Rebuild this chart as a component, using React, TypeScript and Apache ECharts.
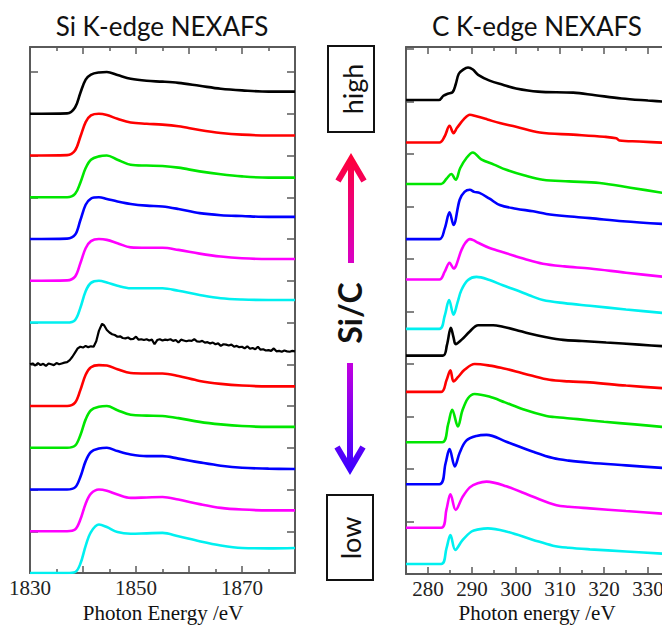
import React, { useEffect, useRef } from "react";
import * as echarts from "echarts";

// ---------- Si K-edge (left panel) ----------
const SI_ENERGY = [1830, 1837, 1838.5, 1839.5, 1840.5, 1841.5, 1843, 1844.5, 1846.5, 1849, 1852, 1855, 1858, 1862, 1866, 1870, 1875, 1880];
const SI_1_BLACK = [0, 0.01, 0.15, 0.5, 0.82, 0.94, 0.99, 1.0, 0.93, 0.84, 0.79, 0.77, 0.74, 0.67, 0.6, 0.56, 0.53, 0.53];
const SI_2_RED = [0, 0.01, 0.12, 0.45, 0.8, 0.96, 1.0, 0.97, 0.88, 0.79, 0.76, 0.74, 0.7, 0.61, 0.54, 0.5, 0.48, 0.48];
const SI_3_GREEN = [0, 0.0, 0.08, 0.35, 0.7, 0.9, 0.98, 1.0, 0.9, 0.78, 0.76, 0.75, 0.71, 0.62, 0.55, 0.5, 0.47, 0.47];
const SI_4_BLUE = [0, 0.01, 0.1, 0.45, 0.82, 0.97, 1.0, 0.96, 0.9, 0.84, 0.8, 0.78, 0.72, 0.62, 0.57, 0.55, 0.53, 0.53];
const SI_5_MAGENTA = [0, 0.01, 0.1, 0.42, 0.78, 0.95, 1.0, 0.98, 0.9, 0.8, 0.79, 0.79, 0.74, 0.65, 0.58, 0.54, 0.52, 0.52];
const SI_6_CYAN = [0, 0, 0.06, 0.35, 0.75, 0.95, 1.0, 0.96, 0.88, 0.82, 0.82, 0.82, 0.76, 0.66, 0.58, 0.55, 0.54, 0.54];
const SI_8_RED = [0, 0, 0.08, 0.38, 0.75, 0.93, 0.98, 0.97, 0.88, 0.79, 0.78, 0.78, 0.72, 0.6, 0.53, 0.49, 0.47, 0.47];
const SI_9_GREEN = [0, 0, 0.05, 0.3, 0.68, 0.9, 0.98, 1.0, 0.9, 0.79, 0.77, 0.76, 0.71, 0.62, 0.56, 0.52, 0.5, 0.5];
const SI_10_BLUE = [0, 0, 0.05, 0.3, 0.68, 0.9, 0.98, 1.0, 0.92, 0.84, 0.8, 0.8, 0.74, 0.65, 0.57, 0.52, 0.5, 0.49];
const SI_11_MAGENTA = [0, 0, 0.04, 0.28, 0.66, 0.9, 1.0, 0.97, 0.88, 0.8, 0.81, 0.82, 0.76, 0.65, 0.56, 0.52, 0.5, 0.5];
const SI_12_CYAN = [0, 0, 0.02, 0.22, 0.65, 0.98, 1.16, 1.1, 0.98, 0.94, 0.95, 0.96, 0.88, 0.76, 0.66, 0.6, 0.59, 0.6];
// noisy black spectrum: [energy, intensity]
const SI_7_BLACK_NOISY: [number, number][] = [
  [1830, 0.0], [1830.5, 0.02], [1831, -0.03], [1831.5, 0.03], [1832, -0.02], [1832.5, 0.01], [1833, -0.04], [1833.5, 0.02],
  [1834, 0.0], [1834.5, -0.02], [1835, 0.03], [1835.5, 0.0], [1836, 0.02], [1836.5, 0.04], [1837, 0.05], [1837.5, 0.1],
  [1838, 0.18], [1838.5, 0.28], [1839, 0.38], [1839.5, 0.42], [1840, 0.4], [1840.5, 0.44], [1841, 0.41], [1841.5, 0.43],
  [1842, 0.42], [1842.5, 0.55], [1843, 0.8], [1843.6, 0.97], [1844, 0.93], [1844.5, 0.82], [1845, 0.76], [1845.5, 0.72],
  [1846, 0.7], [1846.5, 0.66], [1847, 0.67], [1847.5, 0.63], [1848, 0.62], [1848.5, 0.64], [1849, 0.6], [1849.5, 0.61],
  [1850, 0.66], [1850.5, 0.59], [1851, 0.6], [1851.5, 0.58], [1852, 0.6], [1852.5, 0.57], [1853, 0.59], [1853.5, 0.48],
  [1854, 0.58], [1854.5, 0.6], [1855, 0.57], [1855.5, 0.59], [1856, 0.58], [1856.5, 0.6], [1857, 0.56], [1857.5, 0.58],
  [1858, 0.52], [1858.5, 0.59], [1859, 0.57], [1859.5, 0.55], [1860, 0.57], [1860.5, 0.56], [1861, 0.6], [1861.5, 0.55],
  [1862, 0.54], [1862.5, 0.56], [1863, 0.52], [1863.5, 0.53], [1864, 0.5], [1864.5, 0.52], [1865, 0.48], [1865.5, 0.5],
  [1866, 0.44], [1866.5, 0.48], [1867, 0.47], [1867.5, 0.45], [1868, 0.47], [1868.5, 0.42], [1869, 0.44], [1869.5, 0.41],
  [1870, 0.42], [1870.5, 0.38], [1871, 0.43], [1871.5, 0.37], [1872, 0.39], [1872.5, 0.36], [1873, 0.42], [1873.5, 0.35],
  [1874, 0.36], [1874.5, 0.33], [1875, 0.34], [1875.5, 0.32], [1876, 0.38], [1876.5, 0.31], [1877, 0.32], [1877.5, 0.3],
  [1878, 0.33], [1878.5, 0.31], [1879, 0.3], [1879.5, 0.32], [1880, 0.31],
];
const SI_OFFSETS = [11, 10, 9, 8, 7, 6, 5, 4, 3, 2, 1, 0];

// ---------- C K-edge (right panel) ----------
const C_1_BLACK: [number, number][] = [[275, 0], [282.5, 0], [283.5, 0.08], [284.5, 0.12], [285.6, 0.15], [286.3, 0.3], [287, 0.5], [288, 0.58], [289.1, 0.62], [290.2, 0.58], [291.4, 0.48], [294, 0.37], [297, 0.29], [300, 0.22], [305, 0.16], [313, 0.14], [318, 0.09], [324, 0.03], [330, -0.01], [335, -0.04]];
const C_2_RED: [number, number][] = [[275, 0], [282.6, 0], [283.8, 0.12], [284.9, 0.32], [285.8, 0.18], [286.6, 0.28], [288.3, 0.46], [289.5, 0.53], [291, 0.5], [293.5, 0.44], [296.3, 0.37], [300, 0.3], [305.4, 0.19], [313, 0.15], [320, 0.11], [322.8, 0.08], [323.5, 0.04], [328, 0.02], [335, -0.01]];
const C_3_GREEN: [number, number][] = [[275, 0], [283, 0], [284.2, 0.1], [285.3, 0.19], [286.3, 0.08], [287.3, 0.3], [288.7, 0.49], [290.2, 0.6], [292.1, 0.47], [295, 0.37], [297.8, 0.27], [302, 0.16], [306.1, 0.08], [312, 0.05], [319, 0.02], [326, -0.07], [335, -0.19]];
const C_4_BLUE: [number, number][] = [[275, 0], [282.6, 0], [283.8, 0.2], [284.9, 0.51], [285.8, 0.27], [287.2, 0.75], [288.3, 0.9], [289.5, 0.94], [290.5, 0.9], [291.7, 0.88], [294, 0.77], [296.3, 0.65], [300, 0.58], [303.9, 0.53], [306.9, 0.48], [311, 0.44], [316.8, 0.4], [324.3, 0.34], [335, 0.28]];
const C_5_MAGENTA: [number, number][] = [[275, 0], [282.6, 0], [283.8, 0.15], [284.9, 0.32], [285.8, 0.21], [287.6, 0.56], [288.5, 0.7], [289.5, 0.77], [290.3, 0.75], [291.4, 0.7], [294, 0.6], [297.8, 0.5], [302, 0.39], [306.1, 0.3], [311, 0.25], [316.8, 0.21], [325, 0.13], [335, 0.04]];
const C_6_CYAN: [number, number][] = [[275, 0], [282.6, 0], [283.8, 0.25], [284.8, 0.55], [285.8, 0.27], [286.7, 0.5], [287.6, 0.74], [289.1, 0.93], [291, 0.99], [294, 0.93], [297, 0.83], [300, 0.74], [303, 0.64], [306.1, 0.55], [311, 0.49], [316.8, 0.44], [325, 0.37], [335, 0.29]];
const C_7_BLACK: [number, number][] = [[275, 0], [283.4, 0], [284.3, 0.2], [285.2, 0.53], [285.8, 0.35], [286.3, 0.22], [287.6, 0.3], [289.5, 0.46], [291.4, 0.58], [294.8, 0.58], [297, 0.55], [300, 0.49], [303, 0.42], [306.9, 0.35], [310.7, 0.3], [315, 0.28], [320.5, 0.25], [328, 0.21], [335, 0.17]];
const C_8_RED: [number, number][] = [[275, 0], [283, 0], [284.2, 0.22], [285.1, 0.41], [285.8, 0.2], [286.8, 0.28], [288.3, 0.42], [290.6, 0.53], [294, 0.5], [297, 0.45], [300, 0.39], [303.5, 0.31], [307.6, 0.23], [312, 0.2], [316.8, 0.18], [325, 0.12], [335, 0.06]];
const C_9_GREEN: [number, number][] = [[275, 0], [283.2, 0], [284.6, 0.35], [285.5, 0.62], [286.8, 0.3], [287.8, 0.6], [289.1, 0.84], [290.6, 0.92], [293.9, 0.87], [297.5, 0.76], [301.6, 0.63], [306.9, 0.5], [308.7, 0.48], [314, 0.44], [320, 0.39], [327, 0.34], [335, 0.28]];
const C_10_BLUE: [number, number][] = [[275, 0], [282.6, 0], [284, 0.4], [284.9, 0.67], [286.1, 0.34], [287.2, 0.6], [288.7, 0.83], [291, 0.92], [293.3, 0.94], [297.8, 0.81], [303.9, 0.62], [308.4, 0.5], [312, 0.45], [316.8, 0.41], [325, 0.36], [335, 0.3]];
const C_11_MAGENTA: [number, number][] = [[275, 0], [283, 0], [284.2, 0.35], [285.1, 0.64], [286.3, 0.34], [287.8, 0.58], [289.5, 0.77], [291.3, 0.85], [293.3, 0.88], [297.8, 0.79], [303.9, 0.59], [309.2, 0.43], [312, 0.4], [316.8, 0.37], [325, 0.32], [335, 0.26]];
const C_12_CYAN: [number, number][] = [[275, 0], [283, 0], [284.2, 0.3], [285.1, 0.55], [286.2, 0.27], [287.8, 0.45], [289.9, 0.62], [291.5, 0.66], [293.6, 0.68], [297.8, 0.62], [303.9, 0.46], [308.4, 0.35], [312, 0.31], [316.8, 0.28], [325, 0.24], [335, 0.19]];
const C_OFFSETS = [9.03, 8.22, 7.43, 6.38, 5.61, 4.67, 4.16, 3.47, 2.51, 1.71, 0.88, 0.19];

const COLORS = ["#000000", "#ff0000", "#00e600", "#0000ff", "#ff00ff", "#00f0f0"];
const SI_X_LABELS = [1830, 1850, 1870];
const C_X_LABELS = [280, 290, 300, 310, 320, 330];

const AXIS_GREY = "#5a5a5a";
const SERIF = "Liberation Serif";

export default function App() {
  const ref = useRef<HTMLDivElement>(null);
  useEffect(() => {
    if (!ref.current) return;
    const chart = echarts.init(ref.current, undefined, { renderer: "svg" });

    const siCurves: [number, number][][] = [
      SI_1_BLACK, SI_2_RED, SI_3_GREEN, SI_4_BLUE, SI_5_MAGENTA, SI_6_CYAN,
      null as any,
      SI_8_RED, SI_9_GREEN, SI_10_BLUE, SI_11_MAGENTA, SI_12_CYAN,
    ].map((vals: any, i: number) => {
      if (vals === null) return SI_7_BLACK_NOISY.map(([e, v]) => [e, v + SI_OFFSETS[i]] as [number, number]);
      return SI_ENERGY.map((e, k) => [e, vals[k] + SI_OFFSETS[i]] as [number, number]);
    });
    const cCurves = [
      C_1_BLACK, C_2_RED, C_3_GREEN, C_4_BLUE, C_5_MAGENTA, C_6_CYAN,
      C_7_BLACK, C_8_RED, C_9_GREEN, C_10_BLUE, C_11_MAGENTA, C_12_CYAN,
    ].map((arr, i) => arr.map(([e, v]) => [e, v + C_OFFSETS[i]]));

    const series: any[] = [];
    siCurves.forEach((d, i) => {
      series.push({
        type: "line", xAxisIndex: 0, yAxisIndex: 0, data: d, showSymbol: false, symbol: "none",
        smooth: i === 6 ? false : 0.35,
        lineStyle: { color: COLORS[i % 6], width: i === 6 ? 2.2 : 2.6 }, silent: true,
      });
    });
    cCurves.forEach((d, i) => {
      series.push({
        type: "line", xAxisIndex: 2, yAxisIndex: 2, data: d, showSymbol: false, symbol: "none",
        smooth: 0.35, lineStyle: { color: COLORS[i % 6], width: 2.6 }, silent: true,
      });
    });

    const lineStyle = { show: true, lineStyle: { color: AXIS_GREY, width: 2 } };
    const xCommon = (pos: string, gridIndex: number, min: number, max: number, showLabel: boolean, labels: number[]) => ({
      type: "value", gridIndex, position: pos, min, max, interval: 10,
      axisLine: { ...lineStyle, onZero: false },
      axisTick: { show: true, inside: true, length: gridIndex === 0 ? 7 : 4, lineStyle: { color: AXIS_GREY, width: 1.5 } },
      minorTick: { show: true, splitNumber: 2, length: gridIndex === 0 ? 4 : 7, lineStyle: { color: AXIS_GREY, width: 1.5 } },
      splitLine: { show: false }, minorSplitLine: { show: false },
      axisLabel: showLabel ? {
        show: true, customValues: labels, margin: 4,
        color: "#222", fontFamily: SERIF, fontSize: 21,
        formatter: (v: number) => "{s|" + v + "}",
        rich: { s: { fontFamily: SERIF, fontSize: 21, color: "#222" } },
      } : { show: false },
    });
    const yCommon = (pos: string, gridIndex: number, max: number) => ({
      type: "value", gridIndex, position: pos, min: 0, max, interval: 1,
      axisLine: { ...lineStyle, onZero: false },
      axisTick: { show: true, inside: true, length: 8, lineStyle: { color: AXIS_GREY, width: 1.5 } },
      axisLabel: { show: false }, splitLine: { show: false },
    });

    const upGrad = new echarts.graphic.LinearGradient(0, 156, 0, 264, [
      { offset: 0, color: "#ff0038" }, { offset: 1, color: "#d800c8" },
    ], true);
    const downGrad = new echarts.graphic.LinearGradient(0, 362, 0, 472, [
      { offset: 0, color: "#c400e0" }, { offset: 1, color: "#3c00ff" },
    ], true);

    const textStyle = (text: string, font: string) => ({
      text, font, fill: "#111", align: "center", verticalAlign: "middle",
      textAlign: "center", textVerticalAlign: "middle",
    });

    chart.setOption({
      animation: false,
      backgroundColor: "#ffffff",
      textStyle: { fontFamily: SERIF },
      grid: [
        { left: 30, top: 47, width: 265, height: 526, outerBoundsMode: "none", containLabel: false },
        { left: 406, top: 47, width: 264, height: 527, outerBoundsMode: "none", containLabel: false },
      ],
      xAxis: [
        xCommon("bottom", 0, 1830, 1880, true, SI_X_LABELS),
        xCommon("top", 0, 1830, 1880, false, SI_X_LABELS),
        xCommon("bottom", 1, 275, 335, true, C_X_LABELS),
        xCommon("top", 1, 275, 335, false, C_X_LABELS),
      ],
      yAxis: [
        yCommon("left", 0, 12.6),
        yCommon("right", 0, 12.6),
        yCommon("left", 1, 10.04),
        yCommon("right", 1, 10.04),
      ],
      series,
      graphic: [
        { type: "text", x: 162, y: 26, style: textStyle("Si K-edge NEXAFS", "26px Lato") },
        { type: "text", x: 537, y: 26, style: textStyle("C K-edge NEXAFS", "26px Lato") },
        { type: "text", x: 163, y: 613, style: textStyle("Photon Energy /eV", "21px 'Liberation Serif'") },
        { type: "text", x: 537, y: 613, style: textStyle("Photon energy /eV", "21px 'Liberation Serif'") },
        // boxes
        { type: "rect", shape: { x: 328, y: 46, width: 46, height: 86 }, style: { fill: "#fff", stroke: "#111", lineWidth: 2 } },
        { type: "rect", shape: { x: 327, y: 495, width: 46, height: 85 }, style: { fill: "#fff", stroke: "#111", lineWidth: 2 } },
        { type: "text", x: 352, y: 89, rotation: Math.PI / 2, style: textStyle("high", "27px Lato") },
        { type: "text", x: 350, y: 538, rotation: Math.PI / 2, style: textStyle("low", "27px Lato") },
        { type: "text", x: 349, y: 313, rotation: Math.PI / 2, style: textStyle("Si/C", "bold 32px Lato") },
        // up arrow
        { type: "line", shape: { x1: 351, y1: 263, x2: 351, y2: 160 }, style: { stroke: upGrad, lineWidth: 6 } },
        { type: "polyline", shape: { points: [[338, 181], [351, 159], [364, 181]] }, style: { stroke: upGrad, lineWidth: 6, lineJoin: "miter", fill: null } },
        // down arrow
        { type: "line", shape: { x1: 350, y1: 363, x2: 350, y2: 467 }, style: { stroke: downGrad, lineWidth: 6 } },
        { type: "polyline", shape: { points: [[337, 447], [350, 469], [363, 447]] }, style: { stroke: downGrad, lineWidth: 6, lineJoin: "miter", fill: null } },
      ],
    });
    return () => chart.dispose();
  }, []);
  return <div ref={ref} style={{ position: "absolute", left: 0, top: 0, width: 662, height: 625 }} />;
}
